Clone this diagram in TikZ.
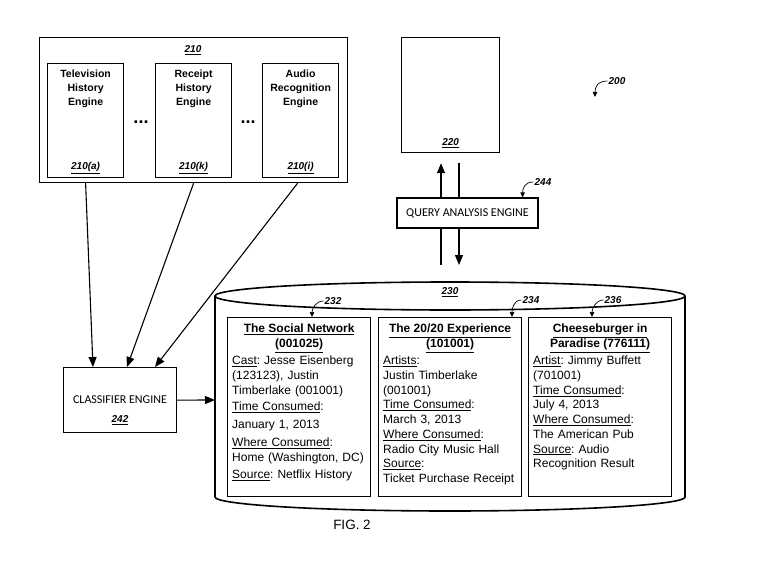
\documentclass[tikz,border=0pt]{standalone}
\usepackage{fontspec}
\setmainfont{Liberation Sans}
\newfontfamily\calfont{Carlito}
\usetikzlibrary{arrows.meta,positioning}

\tikzset{
  box/.style={draw, line width=1.2pt, inner sep=0pt},
  engine/.style={box, minimum width=76pt, minimum height=114pt, anchor=north west},
  enginetitle/.style={font=\bfseries\fontsize{10.5}{14}\selectfont, align=center, anchor=north, inner sep=0pt},
  refnum/.style={font=\bfseries\itshape\fontsize{10}{12}\selectfont, inner sep=1pt},
  capsfont/.style={font=\calfont\fontsize{12}{14}\selectfont},
  card/.style={box, minimum width=143pt, minimum height=179pt, anchor=north west},
  cardtitle/.style={font=\bfseries\fontsize{12}{15}\selectfont, align=center, anchor=north, inner sep=0pt},
  cardtext/.style={font=\frenchspacing\fontsize{12}{14.7}\selectfont, text width=136pt, align=left, anchor=north west, inner sep=0pt},
  flow/.style={line width=1.1pt, -{Triangle[length=10pt,width=8pt]}},
  callout/.style={line width=0.7pt, -{Triangle[length=5pt,width=4.5pt]}},
}

\begin{document}
\begin{tikzpicture}[x=1pt,y=-1pt]

\useasboundingbox (0,0) rectangle (760,575);

% engines
\node[box, minimum width=308pt, minimum height=145pt, anchor=north west] (grp) at (39,37) {};
\node[refnum] (grplbl) at (193,50) {\underline{210}};

\node[engine] (tv) at (47,63) {};
\node[engine] (rcpt) at (155,63) {};
\node[engine] (audio) at (262,63) {};

\node[enginetitle] (tvtitle) at ([yshift=-7pt]tv.north) {Television\\History\\Engine};
\node[enginetitle] (rcpttitle) at ([yshift=-7pt]rcpt.north) {Receipt\\History\\Engine};
\node[enginetitle] (audiotitle) at ([yshift=-7pt]audio.north) {Audio\\Recognition\\Engine};

\node[refnum] (tvlbl) at ([yshift=10pt]tv.south) {\underline{210(a)}};
\node[refnum] (rcptlbl) at ([yshift=10pt]rcpt.south) {\underline{210(k)}};
\node[refnum] (audiolbl) at ([yshift=10pt]audio.south) {\underline{210(i)}};

\node[font=\bfseries\fontsize{18}{18}\selectfont, inner sep=0pt] (dotsa) at (141,122) {...};
\node[font=\bfseries\fontsize{18}{18}\selectfont, inner sep=0pt] (dotsb) at (248,122) {...};

% data store and query
\node[box, minimum width=98pt, minimum height=115pt, anchor=north west] (store) at (401,37) {};
\node[refnum] (storelbl) at ([yshift=10pt]store.south) {\underline{220}};

\coordinate (storegap) at ([yshift=-10pt]store.south);
\coordinate (upfrom) at (441,265);
\coordinate (downto) at (459,265);
\draw[flow] (upfrom) -- (upfrom |- storegap);
\draw[flow] (downto |- storegap) -- (downto);

\node[box, fill=white, capsfont, minimum width=141pt, minimum height=30pt] (qae) at (467.5,213) {QUERY ANALYSIS ENGINE};
\node[refnum] (n244) at (543,182) {244};
\draw[callout] (n244.west) .. controls +(-9,0) and +(0,-9) .. ([xshift=-16pt]qae.north east);

\node[refnum] (n200) at (617,81) {200};
\coordinate (figtip) at (595,97);
\draw[callout] (n200.west) .. controls +(-10,0) and +(0,-10) .. (figtip);

% classifier
\node[box, minimum width=113pt, minimum height=65pt, anchor=north west] (cls) at (63,367) {};
\node[capsfont] (clstext) at (120,400) {CLASSIFIER ENGINE};
\node[refnum] (clslbl) at (120,420) {\underline{242}};

\draw[flow] (tv.south |- grp.south) -- ([xshift=30pt]cls.north west);
\draw[flow] (rcpt.south |- grp.south) -- ([xshift=64pt]cls.north west);
\draw[flow] ([xshift=-3pt]audio.south |- grp.south) -- ([xshift=92pt]cls.north west);

% database
\draw[line width=1.6pt] (450,296) ellipse [x radius=235pt, y radius=14pt];
\draw[line width=1.6pt] (215,296) -- (215,497) arc [start angle=180, end angle=360, x radius=235pt, y radius=14pt] -- (685,296);
\node[refnum] (dblbl) at (450,292) {\underline{230}};

\coordinate (dbleft) at (215,400);
\draw[flow] (cls.east) -- (dbleft);

\node[card] (card1) at (227,317) {};
\node[card] (card2) at (378,317) {};
\node[card] (card3) at (528,317) {};

\node[cardtitle] (title1) at ([yshift=-7pt]card1.north) {\underline{The Social Network}\\\underline{(001025)}};
\node[cardtitle] (title2) at ([yshift=-7pt]card2.north) {\underline{The 20/20 Experience}\\\underline{(101001)}};
\node[cardtitle] (title3) at ([yshift=-7pt]card3.north) {\underline{Cheeseburger in}\\\underline{Paradise (776111)}};

\node[cardtext] (body1) at ([xshift=5pt,yshift=-39pt]card1.north west) {\underline{Cast}: Jesse Eisenberg\\
(123123), Justin\\
Timberlake (001001)\\[2pt]
\underline{Time Consumed}:\\[3pt]
January 1, 2013\\[3pt]
\underline{Where Consumed}:\\
Home (Washington, DC)\\[3pt]
\underline{Source}: Netflix History};

\node[cardtext] (body2) at ([xshift=5pt,yshift=-39pt]card2.north west) {\underline{Artists}:\\
Justin Timberlake\\
(001001)\\
\underline{Time Consumed}:\\
March 3, 2013\\
\underline{Where Consumed}:\\
Radio City Music Hall\\
\underline{Source}:\\
Ticket Purchase Receipt};

\node[cardtext] (body3) at ([xshift=5pt,yshift=-39pt]card3.north west) {\underline{Artist}: Jimmy Buffett\\
(701001)\\
\underline{Time Consumed}:\\
July 4, 2013\\
\underline{Where Consumed}:\\
The American Pub\\
\underline{Source}: Audio\\
Recognition Result};

\node[refnum] (n232) at (333,301) {232};
\node[refnum] (n234) at (531,300) {234};
\node[refnum] (n236) at (613,300) {236};
\draw[callout] (n232.west) .. controls +(-8,0) and +(0,-8) .. ([xshift=85pt]card1.north west);
\draw[callout] (n234.west) .. controls +(-8,0) and +(0,-8) .. ([xshift=134pt]card2.north west);
\draw[callout] (n236.west) .. controls +(-8,0) and +(0,-8) .. ([xshift=64pt]card3.north west);

\node[font=\fontsize{13.5}{16}\selectfont] (figlbl) at (352,525) {FIG. 2};

\end{tikzpicture}
\end{document}
